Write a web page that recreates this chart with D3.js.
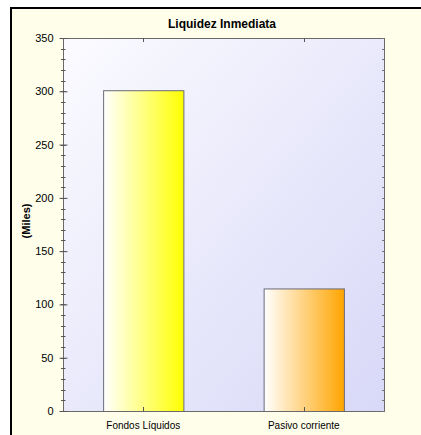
<!DOCTYPE html>
<html><head><meta charset="utf-8">
<script src="https://cdn.jsdelivr.net/npm/d3@7"></script>
<style>body{margin:0;background:#fff}svg{display:block}</style>
</head><body>
<script>
const categories = ["Fondos Líquidos", "Pasivo corriente"];
const values = [301, 115];
const barColors = ["#ffff00", "#ffa500"];
const yTicks = [0, 50, 100, 150, 200, 250, 300, 350];
const title = "Liquidez Inmediata";
const yLabel = "(Miles)";

const W = 421, H = 435;
const m = {left: 63, top: 38, right: 384, bottom: 411};
const svg = d3.select("body").append("svg").attr("width", W).attr("height", H);
const defs = svg.append("defs");

svg.append("rect").attr("width", W).attr("height", H).attr("fill", "#ffffff");
svg.append("rect").attr("x", 11).attr("y", 8).attr("width", W - 11).attr("height", H - 8).attr("fill", "#fffeeb");
svg.append("line").attr("x1", 11).attr("x2", 11).attr("y1", 7).attr("y2", H).attr("stroke", "#000").attr("stroke-width", 2);
svg.append("line").attr("x1", 10).attr("x2", W).attr("y1", 8).attr("y2", 8).attr("stroke", "#000").attr("stroke-width", 2);

const pg = defs.append("linearGradient").attr("id", "pg").attr("x1", "0").attr("y1", "0").attr("x2", "1").attr("y2", "1");
pg.append("stop").attr("offset", "0").attr("stop-color", "#fbfbff");
pg.append("stop").attr("offset", "1").attr("stop-color", "#d8d8f8");

const x = d3.scaleBand().domain(categories).range([m.left, m.right]).paddingInner(0.5).paddingOuter(0.25);
const y = d3.scaleLinear().domain([0, 350]).range([m.bottom, m.top]);

svg.append("rect").attr("x", m.left).attr("y", m.top).attr("width", m.right - m.left).attr("height", m.bottom - m.top)
  .attr("fill", "url(#pg)");

categories.forEach((c, i) => {
  const g = defs.append("linearGradient").attr("id", "bg" + i).attr("x1", "0").attr("x2", "1").attr("y1", "0").attr("y2", "0");
  g.append("stop").attr("offset", "0").attr("stop-color", "#ffffff");
  g.append("stop").attr("offset", "1").attr("stop-color", barColors[i]);
});

svg.selectAll("rect.bar").data(values).join("rect").attr("class", "bar")
  .attr("x", (d, i) => x(categories[i]) + 0.5)
  .attr("y", d => y(d) + 0.5)
  .attr("width", x.bandwidth())
  .attr("height", d => y(0) - y(d))
  .attr("fill", (d, i) => "url(#bg" + i + ")")
  .attr("stroke", "#6a6a78").attr("stroke-width", 1);

svg.append("rect").attr("x", m.left + 0.5).attr("y", m.top + 0.5).attr("width", m.right - m.left).attr("height", m.bottom - m.top)
  .attr("fill", "none").attr("stroke", "#6a6a6a").attr("stroke-width", 1);

const minor = d3.range(0, 351, 10);
const axL = svg.append("g").attr("transform", `translate(${m.left + 0.5},0)`)
  .call(d3.axisLeft(y).tickValues(yTicks).tickSize(4).tickPadding(6).tickFormat(d3.format("d")));
axL.select(".domain").remove();
axL.selectAll(".tick line").attr("stroke", "#555").attr("x2", -4).attr("x1", 4);
axL.selectAll("text").attr("font-family", "Arial, 'Liberation Sans', sans-serif").attr("font-size", 11).attr("fill", "#000");
svg.append("g").selectAll("line").data(minor).join("line")
  .attr("x1", m.left - 2).attr("x2", m.left + 2.5).attr("y1", d => Math.round(y(d)) + 0.5).attr("y2", d => Math.round(y(d)) + 0.5)
  .attr("stroke", "#555");
svg.append("g").selectAll("line").data(minor).join("line")
  .attr("x1", m.right - 2).attr("x2", m.right + 0.5).attr("y1", d => Math.round(y(d)) + 0.5).attr("y2", d => Math.round(y(d)) + 0.5)
  .attr("stroke", "#777");

const axB = svg.append("g").attr("transform", `translate(0,${m.bottom + 0.5})`)
  .call(d3.axisBottom(x).tickSize(0).tickPadding(10));
axB.select(".domain").remove();
axB.selectAll("text").attr("font-family", "Arial, 'Liberation Sans', sans-serif").attr("font-size", 10).attr("fill", "#000");
svg.append("g").selectAll("line").data(categories).join("line")
  .attr("x1", d => Math.round(x(d) + x.bandwidth() / 2) + 0.5).attr("x2", d => Math.round(x(d) + x.bandwidth() / 2) + 0.5)
  .attr("y1", m.bottom - 4).attr("y2", m.bottom).attr("stroke", "#555");
svg.append("g").selectAll("line").data(categories).join("line")
  .attr("x1", d => Math.round(x(d) + x.bandwidth() / 2) + 0.5).attr("x2", d => Math.round(x(d) + x.bandwidth() / 2) + 0.5)
  .attr("y1", m.top).attr("y2", m.top + 4).attr("stroke", "#555");

svg.append("text").attr("x", 222).attr("y", 28).attr("text-anchor", "middle")
  .attr("font-family", "Arial, 'Liberation Sans', sans-serif").attr("font-size", 12).attr("font-weight", "bold").text(title);
svg.append("text").attr("transform", "translate(30,221) rotate(-90)").attr("text-anchor", "middle")
  .attr("font-family", "Arial, 'Liberation Sans', sans-serif").attr("font-size", 11).attr("font-weight", "bold").text(yLabel);
</script>
</body></html>
